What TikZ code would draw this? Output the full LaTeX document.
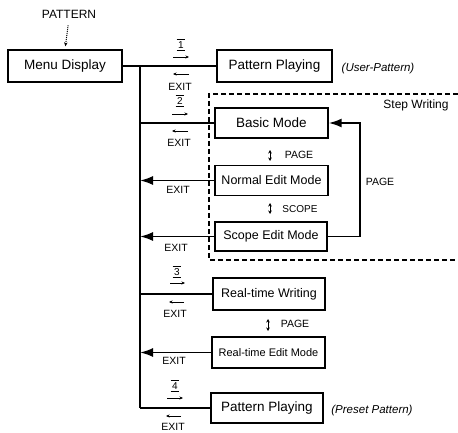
\documentclass[tikz,border=0pt]{standalone}
\usepackage{fontspec}
\setmainfont{Liberation Sans}
\usetikzlibrary{arrows.meta}
\newcommand\myfs[1]{\fontsize{#1}{#1}\selectfont}
\begin{document}
\begin{tikzpicture}[x=1pt,y=-1pt,
  box/.style={draw, line width=1.4pt, minimum height=30pt, inner sep=0pt, font=\myfs{12.5}},
  conn/.style={line width=1.8pt},
  back/.style={conn, -{Latex[length=13pt,width=9pt]}},
  lbl/.style={font=\myfs{10.5}, inner sep=0pt},
  tinyarr/.style={line width=0.8pt, -{Stealth[length=3.5pt,width=3pt]}},
  updown/.style={line width=1pt, {Stealth[length=3.5pt,width=3.5pt]}-{Stealth[length=3.5pt,width=3.5pt]}},
  keynum/.style={font=\myfs{10}, inner xsep=1.5pt, inner ysep=2pt,
    path picture={\draw[line width=1.4pt]
      (path picture bounding box.north west) -- (path picture bounding box.north east)
      (path picture bounding box.south west) -- (path picture bounding box.south east);}}]
\useasboundingbox (0,0) rectangle (458,433);

% title
\node[lbl, font=\myfs{12}] (pattern) at (69,14) {PATTERN};

% boxes
\node[box, minimum width=114pt, minimum height=32pt, font=\myfs{13.5}] (menu) at (65,66) {Menu Display};
\node[box, minimum width=115pt, minimum height=32pt, font=\myfs{13.5}] (pp1) at (274.5,66) {Pattern Playing};
\node[box, minimum width=113pt, font=\myfs{13.5}] (basic) at (271.5,123) {Basic Mode};
\node[box, minimum width=113pt] (normal) at (271.5,180.5) {Normal Edit Mode};
\node[box, minimum width=112pt, minimum height=29pt] (scope) at (271,236.5) {Scope Edit Mode};
\node[box, minimum width=112pt, minimum height=32pt] (rtw) at (269,294) {Real-time Writing};
\node[box, minimum width=113pt, minimum height=31pt, font=\myfs{11}] (rte) at (268.5,352.5) {Real-time Edit Mode};
\node[box, minimum width=112pt, font=\myfs{13.5}] (pp2) at (267,408) {Pattern Playing};

% side notes
\node[lbl, font=\myfs{11.5}\itshape] (userp) at (378,69) {(User-Pattern)};
\node[lbl, font=\myfs{11.5}\itshape] (presetp) at (372,411) {(Preset Pattern)};
\node[lbl, font=\myfs{12}] (stepw) at (416,105) {Step Writing};

% step writing frame
\draw[line width=1.2pt, dash pattern=on 5pt off 3pt] (458,94) -- (209,94) -- (209,260) -- (458,260);

% entry arrow
\draw[densely dotted, line width=1pt, -{Stealth[length=4pt,width=3.5pt]}, shorten <=7pt, shorten >=3pt] (pattern.south) -- (menu.north);

% bus
\coordinate (busx) at (140,0);
\draw[conn] (menu.east) -- (pp1.west);
\draw[conn] (menu.east -| busx) -- (pp2.west -| busx);
\draw[conn] (basic.west -| busx) -- (basic.west);
\draw[back] (normal.west) -- (normal.west -| busx);
\draw[back] (scope.west) -- (scope.west -| busx);
\draw[conn] (rtw.west -| busx) -- (rtw.west);
\draw[back] (rte.west) -- (rte.west -| busx);
\draw[conn] (pp2.west -| busx) -- (pp2.west);

% feedback PAGE
\coordinate (fbx) at (360,0);
\draw[back] (scope.east) -- (scope.east -| fbx) |- (basic.east);
\node[lbl] (pagefb) at (380,182) {PAGE};

% inner PAGE / SCOPE
\draw[updown] (270,150) -- (270,161);
\node[lbl] (page1) at (299,155) {PAGE};
\draw[updown] (270,203) -- (270,214);
\node[lbl, font=\myfs{10}] (scopel) at (300,209) {SCOPE};
\draw[updown] (268,319) -- (268,331);
\node[lbl] (page2) at (295,324) {PAGE};

% key labels and EXIT
\node[keynum] (k1) at (181,45) {1};
\draw[tinyarr] (173,57) -- (189,57);
\draw[tinyarr] (189,74) -- (173,74);
\node[lbl] (e1) at (180,87) {EXIT};

\node[keynum] (k2) at (180,101) {2};
\draw[tinyarr] (172,114) -- (188,114);
\draw[tinyarr] (188,131) -- (172,131);
\node[lbl] (e2) at (179,143) {EXIT};

\node[lbl] (e3) at (178,190) {EXIT};
\node[lbl] (e4) at (176,248) {EXIT};

\node[keynum] (k3) at (177,272) {3};
\draw[tinyarr] (170,283) -- (185,283);
\draw[tinyarr] (184,302) -- (169,302);
\node[lbl] (e5) at (175,314) {EXIT};

\node[lbl] (e6) at (174,361) {EXIT};

\node[keynum] (k4) at (175,386) {4};
\draw[tinyarr] (167,398) -- (183,398);
\draw[tinyarr] (181,416) -- (166,416);
\node[lbl] (e7) at (173,427) {EXIT};
\end{tikzpicture}
\end{document}
